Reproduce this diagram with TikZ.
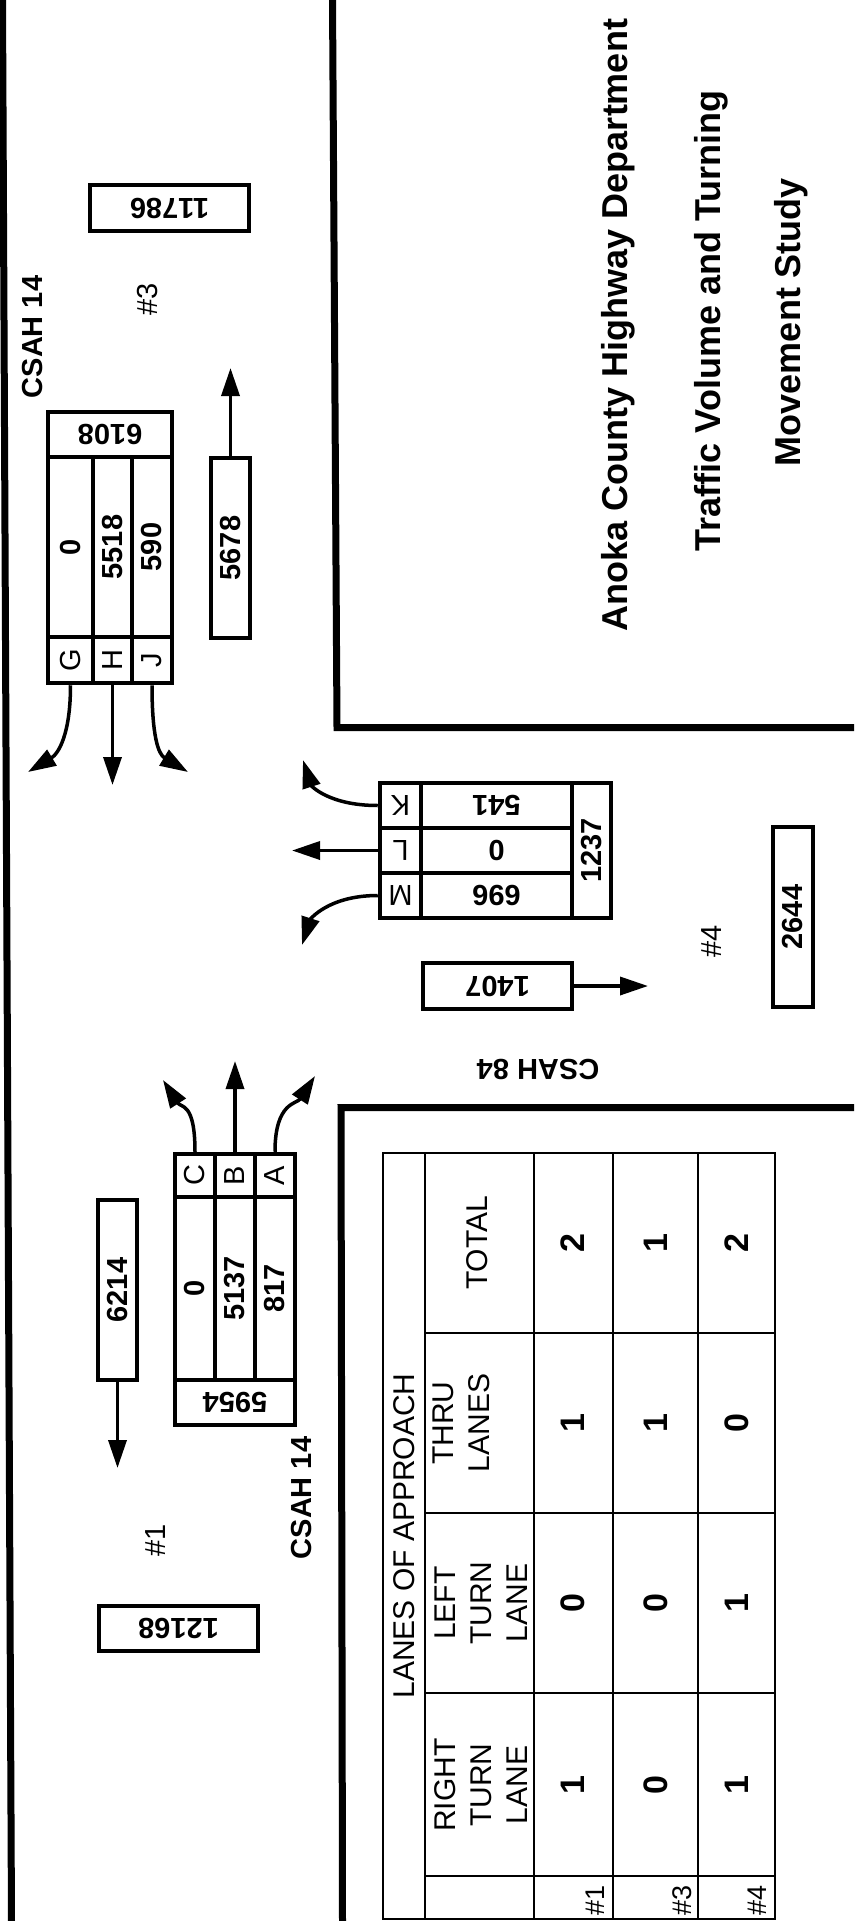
\documentclass[tikz,border=0pt]{standalone}
\usepackage{fontspec}
\setmainfont{Liberation Sans}
\usepackage{graphicx}
\usetikzlibrary{arrows.meta}
\newcommand\fsz[1]{\fontsize{#1}{#1}\selectfont}
\newcommand\mkcell[7]{\node[cell, minimum width={#4-#2}, minimum height={#5-#3}] (#1) at ({(#2+#4)/2},{(#3+#5)/2}) {\rotatebox{#6}{#7}};}
\begin{document}
\begin{tikzpicture}[x=1pt,y=-1pt,
  cell/.style={draw, line width=4.5pt, inner sep=0pt, font=\fsz{29}},
  arr/.style={line width=3.5pt, -{Triangle[length=28pt,width=18pt]}},
  pageline/.style={line width=7pt},
  tbl/.style={line width=2pt},
  lbl/.style={inner sep=0pt, font=\fsz{29}, rotate=90},
  road/.style={inner sep=0pt, font=\bfseries\fsz{29}},
  ttl/.style={inner sep=0pt, font=\bfseries\fsz{36}, anchor=base, rotate=90},
  hdr/.style={inner sep=0pt, font=\fontsize{30}{36}\selectfont, rotate=90, align=center},
  val/.style={inner sep=0pt, font=\bfseries\fsz{34}, rotate=90},
  rowlbl/.style={inner sep=0pt, font=\fsz{27}, rotate=90},
]
\useasboundingbox (0,0) rectangle (854,1921);
\fill[white] (0,0) rectangle (854,1921);

% page frame lines
\draw[pageline] (2.5,0) -- (11.5,1921);
\draw[pageline] (332.5,0) -- (337,727.5) -- (854,727.5);
\draw[pageline] (854,1107.5) -- (341,1107.5) -- (342.5,1921);

% titles
\node[ttl] (t1) at (627,325) {Anoka County Highway Department};
\node[ttl] (t2) at (720,321) {Traffic Volume and Turning};
\node[ttl] (t3) at (800,322) {Movement Study};

% intersection #3 (top)
\mkcell{n11786}{90}{185}{249}{231}{180}{\bfseries 11786}
\node[road, rotate=90] (csah14a) at (32.5,337) {CSAH 14};
\node[lbl] (i3) at (148,299) {\#3};
\mkcell{gt}{48}{412}{172}{457}{180}{\bfseries 6108}
\mkcell{gv}{48}{457}{93}{637}{90}{\bfseries 0}
\mkcell{hv}{93}{457}{132}{637}{90}{\bfseries 5518}
\mkcell{jv}{132}{457}{172}{637}{90}{\bfseries 590}
\mkcell{g}{48}{637}{93}{683}{90}{G}
\mkcell{h}{93}{637}{132}{683}{90}{H}
\mkcell{j}{132}{637}{172}{683}{90}{J}
\mkcell{n5678}{211}{458}{250}{638}{90}{\bfseries 5678}
\coordinate (t5678) at (230.5,368);
\coordinate (tg) at (28,772);
\coordinate (th) at (112.5,785);
\coordinate (tj) at (188,772);
\draw[arr] (n5678.north) -- (t5678);
\draw[arr] (g.south) .. controls +(0,50) and +(30,-18) .. (tg);
\draw[arr] (h.south) -- (th);
\draw[arr] (j.south) .. controls +(0,50) and +(-30,-18) .. (tj);

% intersection #4 (middle)
\mkcell{k}{380}{783}{421}{828}{180}{K}
\mkcell{l}{380}{828}{421}{873}{180}{L}
\mkcell{m}{380}{873}{421}{918}{180}{M}
\mkcell{kv}{421}{783}{572}{828}{180}{\bfseries 541}
\mkcell{lv}{421}{828}{572}{873}{180}{\bfseries 0}
\mkcell{mv}{421}{873}{572}{918}{180}{\bfseries 696}
\mkcell{kt}{572}{783}{611}{918}{90}{\bfseries 1237}
\coordinate (tk) at (303,760);
\coordinate (tl) at (292,850.5);
\coordinate (tm) at (302,945);
\draw[arr] (k.west) .. controls +(-50,0) and +(8,25) .. (tk);
\draw[arr] (l.west) -- (tl);
\draw[arr] (m.west) .. controls +(-50,0) and +(8,-25) .. (tm);
\mkcell{n1407}{423}{963}{572}{1009}{180}{\bfseries 1407}
\coordinate (t1407) at (648,986);
\draw[arr] (n1407.east) -- (t1407);
\node[road, rotate=180] (csah84) at (538,1069) {CSAH 84};
\node[lbl] (i4) at (712,941) {\#4};
\mkcell{n2644}{773}{827}{813}{1007}{90}{\bfseries 2644}

% intersection #1 (bottom)
\mkcell{c}{175}{1154}{215}{1197}{90}{C}
\mkcell{b}{215}{1154}{255}{1197}{90}{B}
\mkcell{a}{255}{1154}{295}{1197}{90}{A}
\mkcell{cv}{175}{1197}{215}{1380}{90}{\bfseries 0}
\mkcell{bv}{215}{1197}{255}{1380}{90}{\bfseries 5137}
\mkcell{av}{255}{1197}{295}{1380}{90}{\bfseries 817}
\mkcell{abct}{175}{1380}{295}{1425}{180}{\bfseries 5954}
\coordinate (tc) at (163,1080);
\coordinate (tb) at (235,1061);
\coordinate (ta) at (315,1076);
\draw[arr] (c.north) .. controls +(0,-50) and +(18,28) .. (tc);
\draw[arr] (b.north) -- (tb);
\draw[arr] (a.north) .. controls +(0,-50) and +(-18,28) .. (ta);
\mkcell{n6214}{98}{1200}{137}{1380}{90}{\bfseries 6214}
\coordinate (t6214) at (117.5,1468);
\draw[arr] (n6214.south) -- (t6214);
\node[road, rotate=90] (csah14b) at (301.5,1498) {CSAH 14};
\node[lbl] (i1) at (156,1540) {\#1};
\mkcell{n12168}{99}{1606}{258}{1651}{180}{\bfseries 12168}

% lanes table
\draw[tbl] (383,1153) rectangle (775,1919);
\draw[tbl] (425,1153) -- (425,1919);
\foreach \x in {534,613,698} \draw[tbl] (\x,1153) -- (\x,1919);
\foreach \y in {1333,1513,1693,1876} \draw[tbl] (425,\y) -- (775,\y);
\node[hdr] (lanes) at (404,1536) {LANES OF APPROACH};
\node[hdr] (htot) at (477,1243) {TOTAL};
\node[hdr] (hthru) at (461.5,1423) {THRU\\LANES};
\node[hdr] (hleft) at (481,1603) {LEFT\\TURN\\LANE};
\node[hdr] (hright) at (481,1785) {RIGHT\\TURN\\LANE};
\node[val] (v1t) at (573,1243) {2};
\node[val] (v3t) at (655.5,1243) {1};
\node[val] (v4t) at (736.5,1243) {2};
\node[val] (v1u) at (573,1423) {1};
\node[val] (v3u) at (655.5,1423) {1};
\node[val] (v4u) at (736.5,1423) {0};
\node[val] (v1l) at (573,1603) {0};
\node[val] (v3l) at (655.5,1603) {0};
\node[val] (v4l) at (736.5,1603) {1};
\node[val] (v1r) at (573,1785) {1};
\node[val] (v3r) at (655.5,1785) {0};
\node[val] (v4r) at (736.5,1785) {1};
\node[rowlbl] (r1) at (595,1900) {\#1};
\node[rowlbl] (r3) at (682,1900) {\#3};
\node[rowlbl] (r4) at (757,1900) {\#4};
\end{tikzpicture}
\end{document}
